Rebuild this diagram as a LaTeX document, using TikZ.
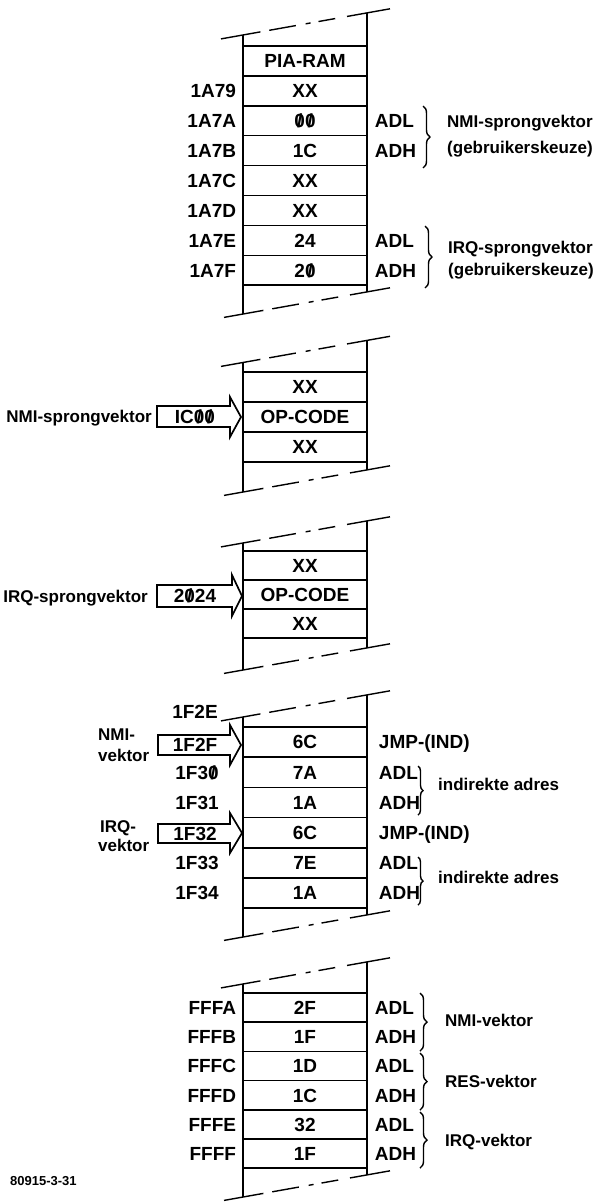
\documentclass[tikz,border=0pt]{standalone}
\usepackage{fontspec}
\setmainfont{Liberation Sans}
\usetikzlibrary{decorations.pathreplacing}
\newcommand\sz{\ooalign{0\cr\hidewidth/\hidewidth\cr}}
\tikzset{
  frame/.style={line width=1.7pt},
  cutline/.style={line width=1.4pt, dash pattern=on 40pt off 9pt on 27pt off 10pt on 5pt off 8pt on 17pt off 12pt on 80pt},
  tfont/.style={font=\fontsize{19}{19}\selectfont\bfseries, text height=13.6pt, text depth=0pt, inner sep=0pt},
  cell/.style={tfont, draw, line width=1.5pt, minimum width=124pt, minimum height=29.9pt},
  addr/.style={tfont, anchor=east},
  addrc/.style={tfont, anchor=center},
  side/.style={tfont, anchor=west},
  lbl/.style={font=\fontsize{17}{17}\selectfont\bfseries, text height=12.2pt, text depth=0pt, inner sep=0pt, anchor=west},
  lble/.style={lbl, anchor=east},
  brace/.style={decorate, decoration={brace, amplitude=7pt}, line width=1.4pt},
  barrow/.style={draw, line width=1.7pt, line join=miter},
  foot/.style={font=\fontsize{13}{13}\selectfont\bfseries, inner sep=0pt, anchor=west},
}
\newcommand\memframe[2]{%
  \draw[frame] (243,#1) -- (243,#2);
  \draw[frame] (367,{#1-22}) -- (367,{#2-22});
  \draw[cutline] (221,{#1+3.9}) -- (390,{#1-26.2});
  \draw[cutline] (224,{#2+3.4}) -- (390,{#2-26.2});
}
\begin{document}
\begin{tikzpicture}[x=1pt,y=-1pt]
\useasboundingbox (0,0) rectangle (598,1202);
% ---------- section 1 ----------
\memframe{35}{314}
\foreach [count=\i] \v in {PIA-RAM,XX,\sz\sz,1C,XX,XX,24,2\sz}
  \node[cell] (a\i) at (305,{46+29.9*(\i-0.5)}) {\v};
\foreach [count=\i from 2] \t in {1A79,1A7A,1A7B,1A7C,1A7D,1A7E,1A7F}
  \node[addr] (aa\i) at ([xshift=-6pt]a\i.west) {\t};
\node[side] (as3) at ([xshift=7pt]a3.east) {ADL};
\node[side] (as4) at ([xshift=7pt]a4.east) {ADH};
\node[side] (as7) at ([xshift=7pt]a7.east) {ADL};
\node[side] (as8) at ([xshift=7pt]a8.east) {ADH};
\draw[brace] (423,106) -- (423,168);
\draw[brace] (425,226) -- (425,288);
\node[lbl] (l1) at (447,121) {NMI-sprongvektor};
\node[lbl] (l2) at (447,147) {(gebruikerskeuze)};
\node[lbl] (l3) at (448,247) {IRQ-sprongvektor};
\node[lbl] (l4) at (448,269) {(gebruikerskeuze)};
% ---------- section 2 ----------
\memframe{362.5}{492}
\foreach [count=\i] \v in {XX,OP-CODE,XX}
  \node[cell, minimum height=30pt] (b\i) at (305,{372+30*(\i-0.5)}) {\v};
\draw[barrow] (157,406) -- (230,406) -- (230,397) -- (241,417) -- (230,437) -- (230,427) -- (157,427) -- cycle;
\node[addrc] (bv) at (195,417) {IC\sz\sz};
\node[lble] (l5) at (152,416) {NMI-sprongvektor};
% ---------- section 3 ----------
\memframe{543}{670}
\foreach [count=\i] \v in {XX,OP-CODE,XX}
  \node[cell, minimum height=29pt] (c\i) at (305,{551+29*(\i-0.5)}) {\v};
\draw[barrow] (157,585) -- (232,585) -- (232,575) -- (242,596) -- (232,616) -- (232,607) -- (157,607) -- cycle;
\node[addrc] (cv) at (195,596) {2\sz24};
\node[lble] (l6) at (148,596) {IRQ-sprongvektor};
% ---------- section 4 ----------
\memframe{717}{937}
\foreach [count=\i] \v in {6C,7A,1A,6C,7E,1A}
  \node[cell, minimum height=30.2pt] (d\i) at (305,{727+30.2*(\i-0.5)}) {\v};
\node[addrc] (da0) at (195,712) {1F2E};
\node[addrc] (da2) at (197,772.3) {1F3\sz};
\node[addrc] (da3) at (197,802.5) {1F31};
\node[addrc] (da5) at (197,862.9) {1F33};
\node[addrc] (da6) at (197,893.1) {1F34};
\draw[barrow] (158,735) -- (230,735) -- (230,725) -- (241,745) -- (230,765) -- (230,755) -- (158,755) -- cycle;
\node[addrc] (da1) at (195,745) {1F2F};
\draw[barrow] (158,824) -- (230,824) -- (230,813) -- (242,833) -- (230,853) -- (230,843) -- (158,843) -- cycle;
\node[addrc] (da4) at (195,834) {1F32};
\node[lbl] (l7) at (98,734) {NMI-};
\node[lbl] (l8) at (98,755) {vektor};
\node[lbl] (l9) at (100,826) {IRQ-};
\node[lbl] (l10) at (98,845) {vektor};
\node[side] (ds1) at ([xshift=11pt]d1.east) {JMP-(IND)};
\node[side] (ds2) at ([xshift=11pt]d2.east) {ADL};
\node[side] (ds3) at ([xshift=11pt]d3.east) {ADH};
\node[side] (ds4) at ([xshift=11pt]d4.east) {JMP-(IND)};
\node[side] (ds5) at ([xshift=11pt]d5.east) {ADL};
\node[side] (ds6) at ([xshift=11pt]d6.east) {ADH};
\draw[brace, decoration={amplitude=5pt}] (418,766) -- (418,815);
\draw[brace, decoration={amplitude=5pt}] (418,857) -- (418,905);
\node[lbl] (l11) at (438,784) {indirekte adres};
\node[lbl] (l12) at (438,877) {indirekte adres};
% ---------- section 5 ----------
\memframe{984}{1197}
\foreach [count=\i] \v in {2F,1F,1D,1C,32,1F}
  \node[cell, minimum height=29.2pt] (e\i) at (305,{993+29.2*(\i-0.5)}) {\v};
\foreach [count=\i] \t in {FFFA,FFFB,FFFC,FFFD,FFFE,FFFF}
  \node[addr] (ea\i) at ([xshift=-6pt]e\i.west) {\t};
\foreach [count=\i] \t in {ADL,ADH,ADL,ADH,ADL,ADH}
  \node[side] (es\i) at ([xshift=7pt]e\i.east) {\t};
\draw[brace] (420,993) -- (420,1051);
\draw[brace] (420,1053) -- (420,1110);
\draw[brace] (420,1112) -- (420,1168);
\node[lbl] (l13) at (445,1020) {NMI-vektor};
\node[lbl] (l14) at (445,1081) {RES-vektor};
\node[lbl] (l15) at (445,1140) {IRQ-vektor};
% footer
\node[foot] (f) at (10,1181) {80915-3-31};
\end{tikzpicture}
\end{document}
